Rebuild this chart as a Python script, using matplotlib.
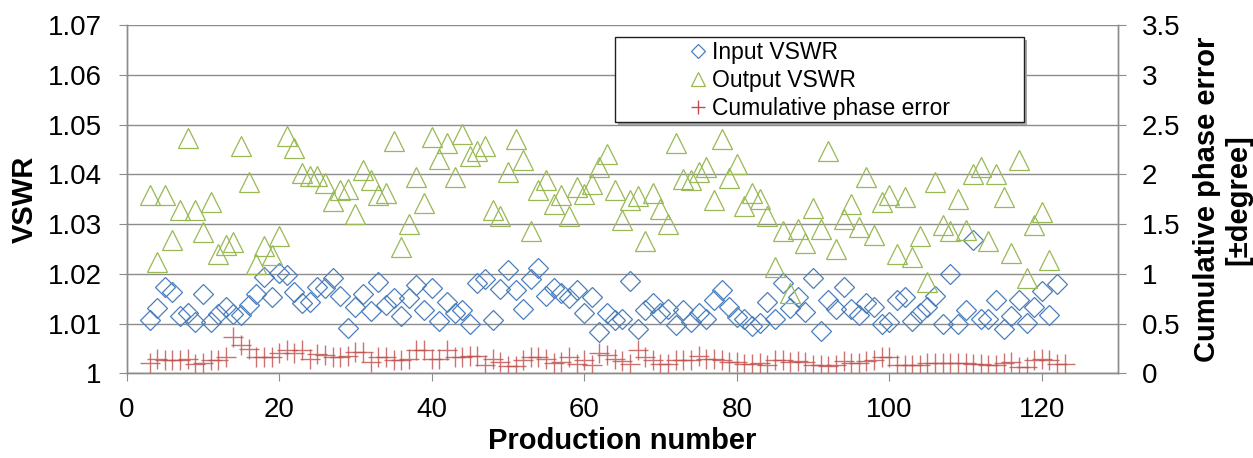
import matplotlib
matplotlib.use("Agg")
import matplotlib.pyplot as plt
from matplotlib.patches import Rectangle
from matplotlib.lines import Line2D
from matplotlib.transforms import offset_copy

plt.rcParams['font.family'] = ['Liberation Sans', 'DejaVu Sans']

# production numbers of the first unit in each series
first_no = 3

input_vswr = [
    1.0107, 1.0131, 1.0174, 1.0163, 1.0115, 1.0122, 1.0104, 1.0159, 1.0104, 1.0119,
    1.0134, 1.0119, 1.0117, 1.0137, 1.0160, 1.0193, 1.0154, 1.0202, 1.0198, 1.0164,
    1.0141, 1.0144, 1.0174, 1.0171, 1.0191, 1.0156, 1.0092, 1.0134, 1.0160, 1.0125,
    1.0184, 1.0137, 1.0151, 1.0115, 1.0151, 1.0177, 1.0127, 1.0172, 1.0105, 1.0144,
    1.0121, 1.0127, 1.0100, 1.0181, 1.0189, 1.0107, 1.0169, 1.0208, 1.0167, 1.0129,
    1.0189, 1.0211, 1.0155, 1.0171, 1.0162, 1.0151, 1.0167, 1.0122, 1.0154, 1.0084,
    1.0122, 1.0107, 1.0110, 1.0186, 1.0090, 1.0127, 1.0142, 1.0122, 1.0129, 1.0097,
    1.0127, 1.0104, 1.0122, 1.0110, 1.0147, 1.0167, 1.0134, 1.0114, 1.0110, 1.0095,
    1.0102, 1.0144, 1.0109, 1.0181, 1.0131, 1.0154, 1.0124, 1.0191, 1.0086, 1.0147,
    1.0129, 1.0173, 1.0129, 1.0117, 1.0142, 1.0133, 1.0100, 1.0104, 1.0147, 1.0154,
    1.0105, 1.0121, 1.0134, 1.0155, 1.0100, 1.0199, 1.0100, 1.0127, 1.0268, 1.0109,
    1.0109, 1.0147, 1.0090, 1.0115, 1.0147, 1.0102, 1.0133, 1.0165, 1.0117, 1.0180,
]

output_vswr = [
    1.0358, 1.0224, 1.0358, 1.0267, 1.0329, 1.0472, 1.0329, 1.0285, 1.0344, 1.0240,
    1.0258, 1.0264, 1.0457, 1.0385, 1.0219, 1.0256, 1.0238, 1.0276, 1.0477, 1.0452,
    1.0403, 1.0397, 1.0396, 1.0383, 1.0347, 1.0369, 1.0371, 1.0321, 1.0409, 1.0388,
    1.0358, 1.0362, 1.0467, 1.0253, 1.0301, 1.0394, 1.0342, 1.0475, 1.0430, 1.0463,
    1.0395, 1.0480, 1.0436, 1.0447, 1.0456, 1.0328, 1.0316, 1.0405, 1.0470, 1.0429,
    1.0287, 1.0368, 1.0389, 1.0340, 1.0358, 1.0316, 1.0374, 1.0361, 1.0380, 1.0414,
    1.0440, 1.0369, 1.0308, 1.0348, 1.0356, 1.0266, 1.0362, 1.0330, 1.0301, 1.0463,
    1.0391, 1.0389, 1.0405, 1.0414, 1.0348, 1.0470, 1.0393, 1.0421, 1.0336, 1.0362,
    1.0351, 1.0316, 1.0214, 1.0286, 1.0161, 1.0291, 1.0262, 1.0333, 1.0291, 1.0447,
    1.0250, 1.0311, 1.0341, 1.0295, 1.0394, 1.0277, 1.0344, 1.0358, 1.0240, 1.0354,
    1.0234, 1.0275, 1.0184, 1.0385, 1.0299, 1.0286, 1.0351, 1.0289, 1.0401, 1.0414,
    1.0266, 1.0400, 1.0354, 1.0242, 1.0429, 1.0192, 1.0299, 1.0324, 1.0227,
]

phase_error = [
    0.10, 0.14, 0.13, 0.13, 0.13, 0.14, 0.09, 0.10, 0.13, 0.13,
    0.16, 0.36, 0.28, 0.24, 0.16, 0.16, 0.16, 0.20, 0.23, 0.20,
    0.23, 0.14, 0.19, 0.18, 0.16, 0.16, 0.17, 0.21, 0.21, 0.11,
    0.16, 0.16, 0.13, 0.13, 0.14, 0.23, 0.23, 0.14, 0.14, 0.23,
    0.16, 0.16, 0.17, 0.17, 0.08, 0.14, 0.11, 0.07, 0.07, 0.13,
    0.16, 0.16, 0.14, 0.10, 0.11, 0.16, 0.09, 0.13, 0.08, 0.20,
    0.18, 0.14, 0.12, 0.09, 0.23, 0.16, 0.13, 0.09, 0.09, 0.13,
    0.13, 0.13, 0.17, 0.14, 0.14, 0.13, 0.11, 0.11, 0.09, 0.09,
    0.10, 0.08, 0.13, 0.13, 0.11, 0.12, 0.11, 0.08, 0.08, 0.07,
    0.08, 0.12, 0.10, 0.10, 0.12, 0.13, 0.16, 0.16, 0.08, 0.08,
    0.08, 0.08, 0.10, 0.10, 0.10, 0.10, 0.10, 0.10, 0.09, 0.09,
    0.08, 0.08, 0.10, 0.11, 0.06, 0.06, 0.13, 0.14, 0.13, 0.09,
    0.09,
]

labels = ['Input VSWR', 'Output VSWR', 'Cumulative phase error']
blue = '#4A7EBB'
green = '#98B954'
red = '#C0504D'
grey = '#8C8C8C'


def numbers(vals):
    return list(range(first_no, first_no + len(vals)))


fig = plt.figure(figsize=(12.53, 4.58), dpi=100)
ax = fig.add_axes([0.1011, 0.1849, 0.7912, 0.7605])
ax2 = ax.twinx()

ax.plot(numbers(input_vswr), input_vswr, ls='none', marker='D', ms=10.5,
        mfc='none', mec=blue, mew=0.9)
ax.plot(numbers(output_vswr), output_vswr, ls='none', marker='^', ms=14.5,
        mfc='none', mec=green, mew=0.9)
ax2.plot(numbers(phase_error), phase_error, ls='none', marker='+', ms=14,
         mec=red, mew=1.0, alpha=0.8)

ax.set_xlim(0, 130)
ax.set_ylim(1.0, 1.07)
ax2.set_ylim(0, 3.5)
ax.set_xticks(range(0, 121, 20))
ax.set_yticks([1.0, 1.01, 1.02, 1.03, 1.04, 1.05, 1.06, 1.07])
ax.set_yticklabels(['1', '1.01', '1.02', '1.03', '1.04', '1.05', '1.06', '1.07'])
ax2.set_yticks([0, 0.5, 1, 1.5, 2, 2.5, 3, 3.5])
ax2.set_yticklabels(['0', '0.5', '1', '1.5', '2', '2.5', '3', '3.5'])

ax.grid(axis='y', color=grey, lw=1.0)
ax.set_axisbelow(True)
for a in (ax, ax2):
    a.spines['top'].set_visible(False)
    for s in ('left', 'right', 'bottom'):
        a.spines[s].set_color(grey)
        a.spines[s].set_linewidth(1.0)
ax.tick_params(axis='y', direction='out', length=6, width=0.8, color=grey,
               labelsize=20, pad=12)
ax.tick_params(axis='x', direction='out', length=6, width=0.8, color=grey,
               labelsize=20, pad=11)
ax2.tick_params(axis='y', direction='out', length=6, width=0.8, color=grey,
                labelsize=20, pad=11)

ax.set_xlabel('Production number', fontsize=21, fontweight='bold')
ax.xaxis.set_label_coords(0.5, -0.155)
ax.set_ylabel('VSWR', fontsize=21, fontweight='bold')
ax.yaxis.set_label_coords(-0.089, 0.5)
ax2.set_ylabel('Cumulative phase error\n[\u00b1degree]', fontsize=21,
               fontweight='bold', linespacing=1.15)
ax2.yaxis.set_label_coords(1.0757, 0.5)

# legend frame with a soft shadow
x0, y0, w, h = 615 / 1253, 1 - 122 / 458, 409 / 1253, 85 / 458
shadow_tr = offset_copy(fig.transFigure, fig=fig, x=3, y=-3, units='dots')
ax2.add_patch(Rectangle((x0, y0), w, h, transform=shadow_tr, facecolor='#A8A8A8',
                        edgecolor='none', clip_on=False, zorder=4))
ax2.add_patch(Rectangle((x0, y0), w, h, transform=fig.transFigure, facecolor='white',
                        edgecolor='#202020', lw=1.0, clip_on=False, zorder=4.5))

handles = [
    Line2D([], [], ls='none', marker='D', ms=7, mfc='none', mec=blue, mew=0.9),
    Line2D([], [], ls='none', marker='^', ms=10, mfc='none', mec=green, mew=0.9),
    Line2D([], [], ls='none', marker='+', ms=10, mec=red, mew=1.0),
]
leg = ax2.legend(handles, labels, loc='upper left',
                 bbox_to_anchor=(689 / 1253, 1 - 41 / 458),
                 bbox_transform=fig.transFigure, frameon=False, fontsize=16.5,
                 borderpad=0, borderaxespad=0, handlelength=0.8,
                 handletextpad=0.2, labelspacing=0.22)
leg.set_zorder(5)

fig.savefig('out.png', dpi=100)
